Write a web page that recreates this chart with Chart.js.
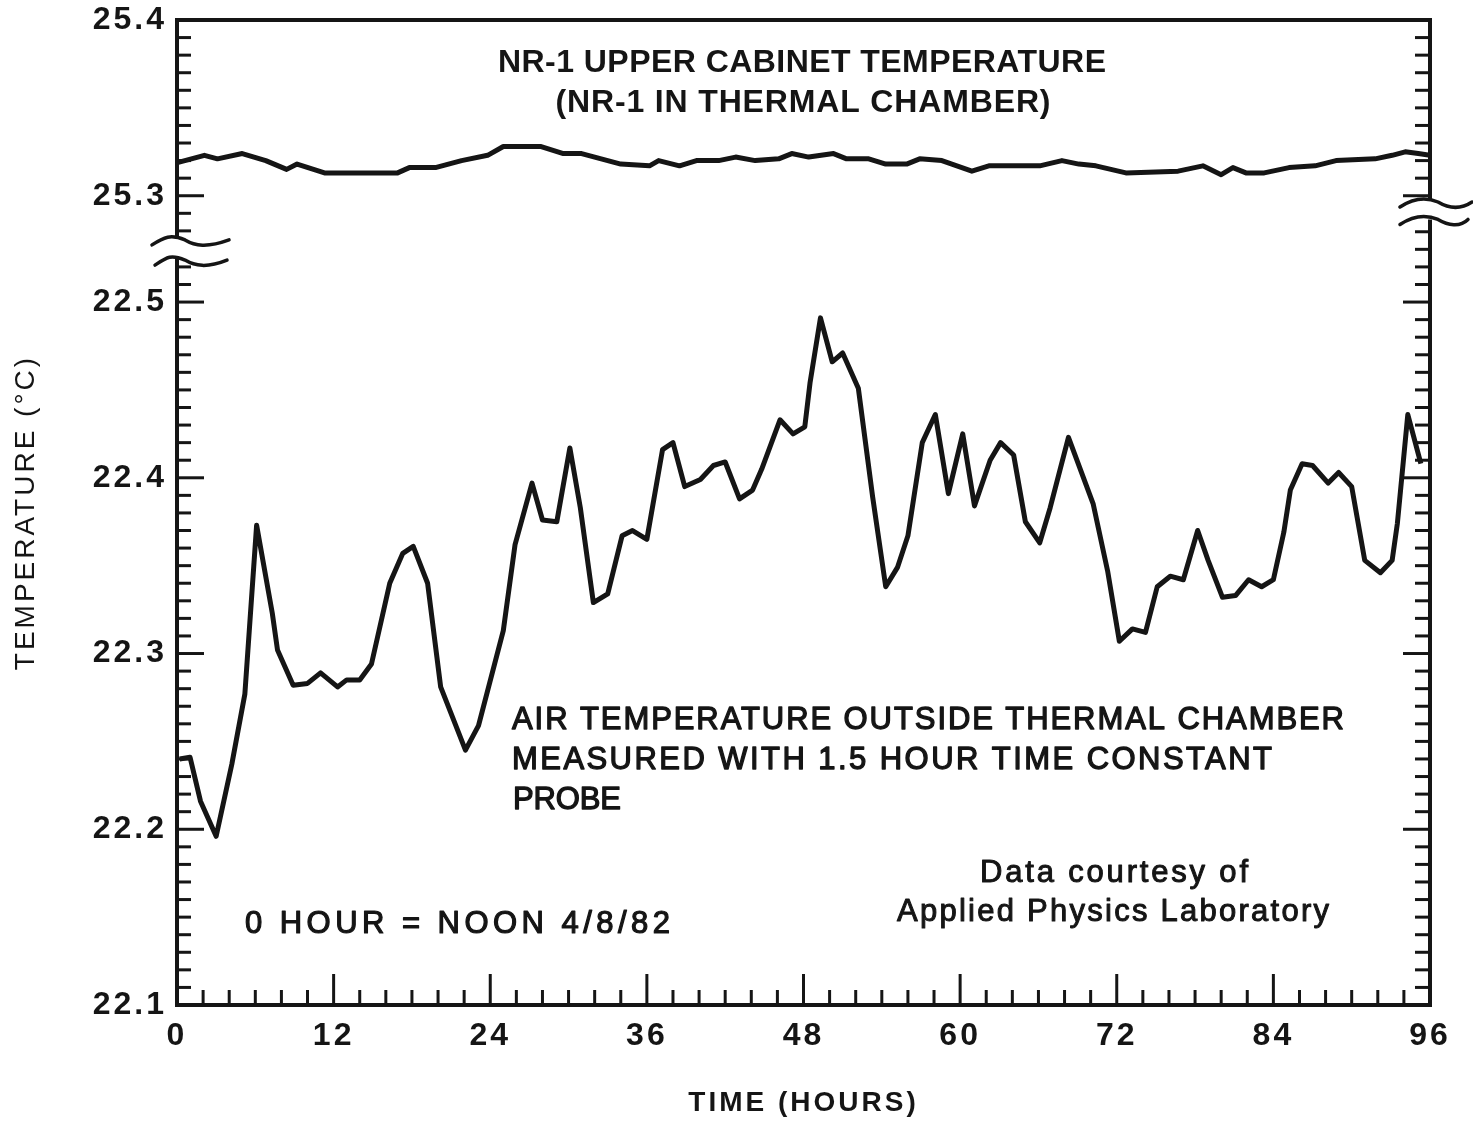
<!DOCTYPE html>
<html>
<head>
<meta charset="utf-8">
<script src="https://cdn.jsdelivr.net/npm/chart.js@4"></script>
<style>
  html, body { margin: 0; padding: 0; background: #fff; }
  canvas { display: block; }
</style>
</head>
<body>
<canvas id="temp_chart" width="1473" height="1122"></canvas>
<script>
// air temperature outside the chamber (hours, °C)
const airHours = [0.2, 1.0, 1.8, 3.0, 4.2, 5.2, 6.1, 7.3, 7.7, 8.9, 10.0, 11.0, 12.3, 13.0, 14.0, 14.9,
  16.3, 17.3, 18.1, 19.2, 20.2, 22.1, 23.1, 25.0, 25.9, 27.2, 28.0, 29.1, 30.1, 30.9, 31.9, 33.0,
  34.1, 34.9, 36.0, 37.2, 38.0, 38.9, 40.1, 41.1, 42.0, 43.1, 44.1, 44.8, 46.2, 47.2, 48.1, 48.5,
  49.3, 50.2, 51.0, 52.2, 53.3, 54.3, 55.2, 56.0, 57.1, 58.1, 59.1, 60.2, 61.1, 62.3, 63.1, 64.1,
  65.0, 66.1, 66.9, 68.3, 70.2, 71.3, 72.2, 73.2, 74.2, 75.1, 76.1, 77.1, 78.2, 79.0, 80.1, 81.1,
  82.1, 83.1, 84.0, 84.8, 85.3, 86.2, 87.0, 88.2, 89.0, 90.0, 91.0, 92.2, 93.1, 93.5, 94.3, 95.3];
const airTemps = [22.240, 22.241, 22.216, 22.196, 22.237, 22.277, 22.373, 22.323, 22.302, 22.282, 22.283, 22.289, 22.281, 22.285, 22.285, 22.294,
  22.340, 22.357, 22.361, 22.340, 22.281, 22.245, 22.259, 22.313, 22.362, 22.397, 22.376, 22.375, 22.417, 22.383, 22.329, 22.334,
  22.367, 22.370, 22.365, 22.416, 22.420, 22.395, 22.399, 22.407, 22.409, 22.388, 22.393, 22.405, 22.433, 22.425, 22.429, 22.454,
  22.491, 22.466, 22.471, 22.451, 22.389, 22.338, 22.349, 22.367, 22.420, 22.436, 22.391, 22.425, 22.384, 22.410, 22.420, 22.413,
  22.375, 22.363, 22.383, 22.423, 22.385, 22.347, 22.307, 22.314, 22.312, 22.338, 22.344, 22.342, 22.370, 22.353, 22.332, 22.333,
  22.342, 22.338, 22.342, 22.369, 22.393, 22.408, 22.407, 22.397, 22.403, 22.395, 22.353, 22.346, 22.353, 22.374, 22.436, 22.408];

// NR-1 upper cabinet temperature (hours, °C)
const cabinetHours = [0.1, 2.1, 3.1, 5.0, 6.8, 8.4, 9.2, 11.3, 13.3, 16.9, 17.8, 19.8, 21.8, 23.8, 25.0, 27.9,
  29.6, 31.0, 34.0, 36.2, 36.9, 38.5, 39.8, 41.5, 42.8, 44.3, 46.1, 47.1, 48.4, 50.3, 51.3, 53.0,
  54.3, 55.9, 56.9, 58.6, 60.9, 62.2, 66.1, 67.8, 69.1, 70.4, 72.7, 76.7, 78.6, 80.0, 80.9, 81.9,
  83.3, 85.2, 87.2, 88.8, 91.8, 93.1, 94.1, 95.1, 96.0];
const cabinetTemps = [25.319, 25.323, 25.321, 25.324, 25.320, 25.315, 25.318, 25.313, 25.313, 25.313, 25.316, 25.316, 25.320, 25.323, 25.328, 25.328,
  25.324, 25.324, 25.318, 25.317, 25.320, 25.317, 25.320, 25.320, 25.322, 25.320, 25.321, 25.324, 25.322, 25.324, 25.321, 25.321,
  25.318, 25.318, 25.321, 25.320, 25.314, 25.317, 25.317, 25.320, 25.318, 25.317, 25.313, 25.314, 25.317, 25.312, 25.316, 25.313,
  25.313, 25.316, 25.317, 25.320, 25.321, 25.323, 25.325, 25.324, 25.323];

const xTickValues = [0, 12, 24, 36, 48, 60, 72, 84, 96];
const yTicksLower = [22.1, 22.2, 22.3, 22.4, 22.5];
const yTicksUpper = [25.3, 25.4];

// the y axis is broken: upper values are shifted down by this much
const breakOffset = 2.7395;
const ink = '#151515';

const toAxis = v => (v > 24 ? v - breakOffset : v);

function line(ctx, x1, y1, x2, y2) {
    ctx.beginPath();
    ctx.moveTo(x1, y1);
    ctx.lineTo(x2, y2);
    ctx.stroke();
}

function wave(ctx, x0, cx, x1, cy) {
    ctx.beginPath();
    ctx.moveTo(x0, cy + 6);
    ctx.bezierCurveTo(x0 + 12, cy - 2, cx - 6, cy - 5, cx + 8, cy + 1);
    ctx.bezierCurveTo(cx + 18, cy + 7, cx + 30, cy + 9, x1, cy + 1);
    ctx.stroke();
}

// frame, inward ticks and axis breaks
const framePlugin = {
    id: 'frame',
    beforeDatasetsDraw(chart) {
        const { ctx, chartArea: a, scales: { x, y } } = chart;
        const py = v => y.getPixelForValue(toAxis(v));
        const L = a.left, R = a.right;
        ctx.save();
        ctx.strokeStyle = ink;
        ctx.lineCap = 'butt';
        ctx.lineWidth = 4;
        line(ctx, L - 2, a.top, R + 2, a.top);
        line(ctx, L - 2, a.bottom, R + 2, a.bottom);
        line(ctx, L, a.top, L, py(25.276));
        line(ctx, L, py(22.525), L, a.bottom);
        line(ctx, R, a.top, R, py(25.297));
        line(ctx, R, py(22.547), R, a.bottom);

        ctx.lineWidth = 3;
        // left ticks
        for (let k = 11; k <= 52; k++) {
            const len = k % 10 === 0 ? 27 : 14;
            line(ctx, L, py(22 + k / 100), L + len, py(22 + k / 100));
        }
        for (let k = 28; k <= 39; k++) {
            const len = k === 30 ? 27 : 14;
            line(ctx, L, py(25 + k / 100), L + len, py(25 + k / 100));
        }
        // right ticks
        for (let k = 11; k <= 54; k++) {
            const len = k % 10 === 0 ? 27 : 15;
            line(ctx, R, py(22 + k / 100), R - len, py(22 + k / 100));
        }
        for (let k = 30; k <= 39; k++) {
            const len = k === 30 ? 27 : 15;
            line(ctx, R, py(25 + k / 100), R - len, py(25 + k / 100));
        }
        // bottom ticks every 2 hours
        for (let h = 2; h < 96; h += 2) {
            const len = h % 12 === 0 ? 31 : 15;
            const px = x.getPixelForValue(h);
            line(ctx, px, a.bottom, px, a.bottom - len);
        }

        // break marks
        ctx.lineWidth = 3.5;
        ctx.lineCap = 'round';
        wave(ctx, L - 25, L, L + 52, py(25.276) + 1);
        wave(ctx, L - 22, L, L + 50, py(22.525) + 1);
        wave(ctx, R - 30, R, R + 42, py(25.297));
        wave(ctx, R - 30, R, R + 38, py(22.547) - 1);
        ctx.restore();
    }
};

function drawText(ctx, text, x, y, font, align, width, stroke) {
    ctx.font = font;
    ctx.letterSpacing = '0px';
    const n = text.length - 1;
    const spacing = width ? (width - ctx.measureText(text).width) / n : 0;
    ctx.letterSpacing = spacing + 'px';
    ctx.textAlign = 'left';
    const w = ctx.measureText(text).width - spacing;
    let x0 = x;
    if (align === 'center') x0 = x - w / 2;
    ctx.fillText(text, x0, y);
    if (stroke) {
        ctx.lineWidth = stroke;
        ctx.strokeText(text, x0, y);
    }
}

const notesPlugin = {
    id: 'notes',
    beforeDraw(chart) {
        chart.ctx.letterSpacing = '3px';
    },
    afterDraw(chart) {
        const ctx = chart.ctx;
        ctx.save();
        ctx.fillStyle = ink;
        ctx.strokeStyle = ink;
        ctx.lineJoin = 'round';
        ctx.textBaseline = 'alphabetic';
        drawText(ctx, 'NR-1 UPPER CABINET TEMPERATURE', 802, 72, 'bold 32px "Liberation Sans"', 'center', 608);
        drawText(ctx, '(NR-1 IN THERMAL CHAMBER)', 803, 112, 'bold 32px "Liberation Sans"', 'center', 495);
        drawText(ctx, 'AIR TEMPERATURE OUTSIDE THERMAL CHAMBER', 512, 729, '31px "Liberation Sans"', 'left', 832, 1.3);
        drawText(ctx, 'MEASURED WITH 1.5 HOUR TIME CONSTANT', 512, 769, '31px "Liberation Sans"', 'left', 760, 1.3);
        drawText(ctx, 'PROBE', 513, 809, '31px "Liberation Sans"', 'left', 108, 1.3);
        drawText(ctx, 'Data courtesy of', 1114, 882, '31px "Liberation Sans"', 'center', 268, 1.0);
        drawText(ctx, 'Applied Physics Laboratory', 1113, 921, '31px "Liberation Sans"', 'center', 432, 1.0);
        drawText(ctx, '0 HOUR = NOON 4/8/82', 245, 933, '31px "Liberation Sans"', 'left', 425, 1.2);
        ctx.restore();
        ctx.letterSpacing = '0px';
    }
};

const ctx = document.getElementById('temp_chart').getContext('2d');
const tempChart = new Chart(ctx, {
    type: 'line',
    data: {
        datasets: [{
            label: 'NR-1 upper cabinet',
            data: cabinetHours.map((h, i) => ({ x: h, y: toAxis(cabinetTemps[i]) })),
            borderColor: ink,
            borderWidth: 5,
            pointRadius: 0,
            tension: 0,
            borderJoinStyle: 'round'
        }, {
            label: 'Air outside chamber',
            data: airHours.map((h, i) => ({ x: h, y: airTemps[i] })),
            borderColor: ink,
            borderWidth: 5,
            pointRadius: 0,
            tension: 0,
            borderJoinStyle: 'round'
        }]
    },
    options: {
        responsive: false,
        animation: false,
        devicePixelRatio: 1,
        layout: { padding: { top: 20, right: 43, bottom: 0, left: 0 } },
        plugins: {
            legend: { display: false },
            tooltip: { enabled: false }
        },
        scales: {
            x: {
                type: 'linear',
                min: 0,
                max: 96,
                grid: { display: false, drawTicks: false },
                border: { display: false },
                afterBuildTicks: s => { s.ticks = xTickValues.map(v => ({ value: v })); },
                afterFit: s => { s.height = 117; },
                ticks: {
                    color: ink,
                    padding: 12,
                    maxRotation: 0,
                    font: { family: 'Liberation Sans', size: 32, weight: 'bold' }
                },
                title: {
                    display: true,
                    text: 'TIME (HOURS)',
                    color: ink,
                    padding: { top: 0, bottom: 2 },
                    font: { family: 'Liberation Sans', size: 28, weight: 'bold' }
                }
            },
            y: {
                type: 'linear',
                min: 22.1,
                max: 25.4 - breakOffset,
                grid: { display: false, drawTicks: false },
                border: { display: false },
                afterBuildTicks: s => {
                    s.ticks = yTicksLower.concat(yTicksUpper).map(v => ({ value: toAxis(v) }));
                },
                afterFit: s => {
                    s.width = 177;
                    s.paddingTop = 0;
                    s.paddingBottom = 0;
                },
                ticks: {
                    color: ink,
                    padding: 10,
                    font: { family: 'Liberation Sans', size: 32, weight: 'bold' },
                    callback: v => (v > 22.55 ? v + breakOffset : v).toFixed(1)
                },
                title: {
                    display: true,
                    text: 'TEMPERATURE (°C)',
                    color: ink,
                    padding: { top: 9, bottom: 0 },
                    font: { family: 'Liberation Sans', size: 28 }
                }
            }
        }
    },
    plugins: [framePlugin, notesPlugin]
});
</script>
</body>
</html>
